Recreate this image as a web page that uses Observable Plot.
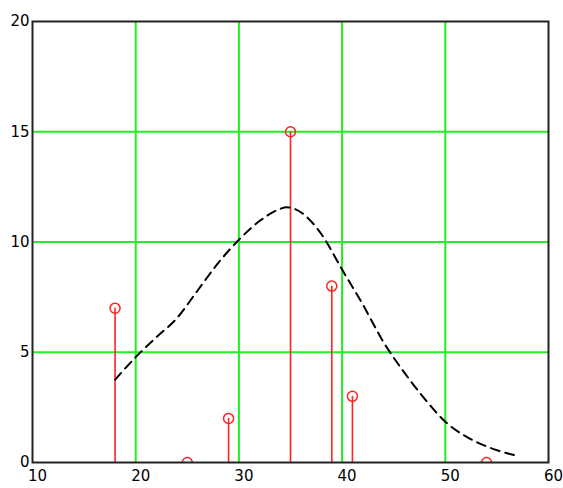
<!DOCTYPE html>
<html>
<head>
<meta charset="utf-8">
<script src="https://cdn.jsdelivr.net/npm/d3@7"></script>
<script src="https://cdn.jsdelivr.net/npm/@observablehq/plot@0.6"></script>
<style>
  html, body { margin: 0; padding: 0; background: #fff; }
  #chart svg { display: block; }
</style>
</head>
<body>
<div id="chart"></div>
<script>
// Stem data
const stemX = [18, 25, 29, 35, 39, 41, 54];
const stemY = [7, 0, 2, 15, 8, 3, 0];

// Dashed fitted curve
const curveX = [18, 20, 22, 24, 26, 28, 30, 32, 34, 34.6, 36, 38, 40, 42, 44, 46, 48, 50, 52, 54, 56, 57];
const curveY = [3.75, 4.78, 5.68, 6.55, 7.8, 9.05, 10.1, 10.95, 11.5, 11.58, 11.35, 10.35, 8.75, 7.17, 5.47, 4.1, 2.89, 1.85, 1.18, 0.73, 0.42, 0.3];

// Axis ticks / grid
const xTicks = [10, 20, 30, 40, 50, 60];
const yTicks = [0, 5, 10, 15, 20];
const xGrid = [20, 30, 40, 50];
const yGrid = [5, 10, 15];

const stems = stemX.map((x, i) => ({x, y: stemY[i]}));
const curve = curveX.map((x, i) => ({x, y: curveY[i]}));

const chart = Plot.plot({
  width: 563,
  height: 488,
  marginLeft: 32,
  marginRight: 15,
  marginTop: 21,
  marginBottom: 26,
  style: {fontFamily: "DejaVu Sans, sans-serif", fontSize: "15px", color: "#000", background: "#fff"},
  x: {domain: [10, 60], ticks: xTicks, tickSize: 0, tickPadding: 8, label: null},
  y: {domain: [0, 20], ticks: yTicks, tickSize: 0, tickPadding: 3, label: null},
  marks: [
    Plot.ruleX(xGrid, {stroke: "#22ee22", strokeWidth: 2}),
    Plot.ruleY(yGrid, {stroke: "#22ee22", strokeWidth: 2}),
    Plot.ruleX(stems, {x: "x", y1: 0, y2: "y", stroke: "#ff2222", strokeWidth: 1.6}),
    Plot.dot(stems, {x: "x", y: "y", r: 5, stroke: "#ff2222", strokeWidth: 1.5, fill: "none", clip: true}),
    Plot.line(curve, {x: "x", y: "y", curve: "monotone-x", stroke: "#000", strokeWidth: 2, strokeDasharray: "9,6"}),
    Plot.frame({stroke: "#222", strokeWidth: 2}),
    Plot.axisX({ticks: xTicks, tickSize: 0, tickPadding: 8, dx: 5, fill: "#000"}),
    Plot.axisY({ticks: yTicks, tickSize: 0, tickPadding: 3, fill: "#000"})
  ]
});
document.getElementById("chart").appendChild(chart);
</script>
</body>
</html>
